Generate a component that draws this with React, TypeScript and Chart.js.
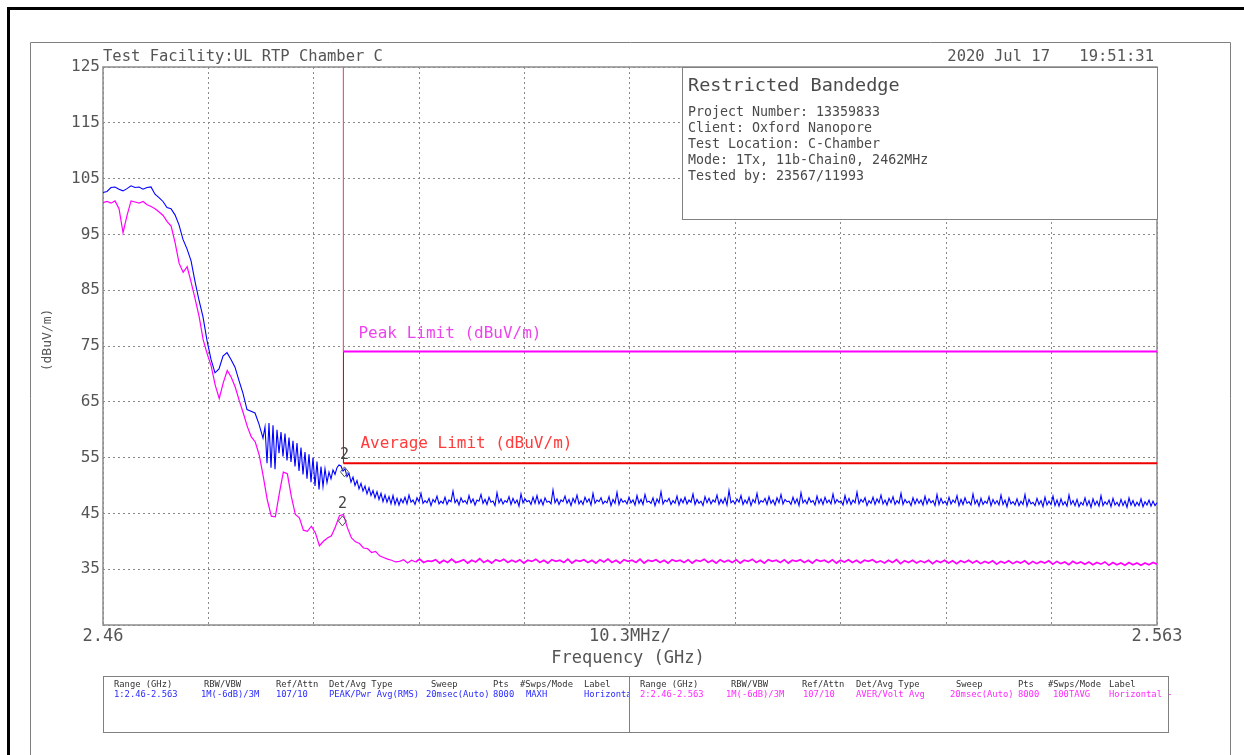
import React, { useEffect, useRef } from 'react';
import { Chart, registerables } from 'chart.js';

Chart.register(...registerables);

const MONO = '"DejaVu Sans Mono", "Liberation Mono", monospace';

// Sweep
const FREQ_START = 2.46;
const FREQ_STOP = 2.563;

// Axis ticks
const X_TICKS = [2.46, 2.4703, 2.4806, 2.4909, 2.5012, 2.5115, 2.5218, 2.5321, 2.5424, 2.5527, 2.563];
const X_TICK_LABELS = ['2.46', '', '', '', '', '10.3MHz/', '', '', '', '', '2.563'];
const Y_TICKS = [25, 35, 45, 55, 65, 75, 85, 95, 105, 115, 125];
const Y_TICK_LABELS = ['', '35', '45', '55', '65', '75', '85', '95', '105', '115', '125'];

// Trace 1: Peak (MAXH), dBuV/m — coarse samples over the lower band edge
const PEAK_TRACE_COARSE = [
  102.5, 102.7, 103.4, 103.5, 103.1, 102.8, 103.2, 103.7, 103.4, 103.5,
  103.1, 103.4, 103.5, 102.2, 101.6, 100.9, 99.8, 99.6, 98.5, 96.7,
  94.1, 92.4, 90.3, 86.6, 83.2, 80.2, 76.0, 72.6, 70.2, 70.9,
  73.2, 73.8, 72.6, 71.2, 68.8, 66.5, 63.6, 63.3, 63.0, 61.0,
  58.5,
];
// Trace 1: fine samples (noisy region, restricted band)
const PEAK_TRACE_FINE = [
  60.5, 54.0, 61.2, 53.2, 60.8, 52.9, 60.0, 55.8, 59.6, 55.2,
  59.3, 54.5, 58.6, 54.2, 58.0, 53.4, 57.6, 52.6, 56.8, 52.0,
  56.0, 51.2, 55.6, 50.6, 55.0, 49.9, 54.3, 49.3, 53.4, 49.8,
  53.0, 50.5, 52.4, 51.2, 52.8, 52.0, 53.2, 53.7,
  53.5, 52.6, 53.0, 51.6, 52.2, 50.6, 51.5, 50.0, 50.9, 49.4,
  50.4, 49.0, 49.9, 48.5, 49.6, 48.2, 49.1, 47.8, 48.9, 47.5,
  48.6, 47.1, 48.3, 47.0, 48.0, 46.7, 48.2, 46.6, 47.7, 46.5,
  47.6, 46.9, 47.9, 46.7, 48.3, 47.0, 47.4, 46.6, 47.8, 47.1,
  48.6, 46.8, 47.3, 46.9, 47.7, 46.4, 47.5, 47.0, 48.1, 46.7,
  47.2, 46.8, 47.9, 46.6, 47.4, 47.1, 49.0, 46.9, 47.5, 46.5,
  47.8, 47.0, 47.3, 46.7, 48.2, 46.9, 47.6, 46.5, 47.4, 47.2,
  48.4, 46.8, 47.5, 46.6, 47.9, 47.0, 47.2, 46.4, 48.7, 46.9,
  47.6, 46.7, 47.3, 47.0, 48.0, 46.6, 47.7, 46.8, 47.4, 46.3,
  48.5, 46.9, 47.6, 47.1, 47.3, 46.6, 47.9, 46.8, 48.2, 46.7,
  47.5, 46.5, 47.8, 47.0, 47.2, 46.7, 49.2, 46.9, 47.6, 46.6,
  47.4, 47.1, 48.1, 46.8, 47.5, 46.4, 47.7, 46.9, 48.3, 46.7,
  47.3, 46.6, 47.9, 47.0, 47.6, 46.5, 48.6, 46.8, 47.4, 47.1,
  47.8, 46.7, 47.2, 46.9, 48.0, 46.4, 47.5, 46.8, 48.8, 46.6,
  47.6, 47.0, 47.3, 46.7, 47.9, 46.9, 47.4, 46.5, 48.2, 46.8,
  47.5, 46.6, 48.4, 47.0, 47.2, 46.8, 47.8, 46.4, 47.6, 46.9,
  48.9, 46.7, 47.4, 47.1, 47.7, 46.6, 47.3, 46.8, 48.1, 46.5,
  47.6, 46.9, 47.9, 46.7, 47.4, 47.0, 48.5, 46.6, 47.5, 46.8,
  47.2, 46.4, 48.0, 46.9, 47.7, 46.7, 47.4, 47.0, 48.3, 46.6,
  47.5, 46.8, 47.8, 46.5, 49.1, 46.9, 47.3, 46.7, 47.6, 47.0,
  48.2, 46.6, 47.4, 46.8, 47.9, 46.4, 47.5, 46.9, 48.6, 46.7,
  47.3, 47.0, 47.7, 46.6, 48.0, 46.8, 47.4, 46.5, 47.8, 46.9,
  48.4, 46.7, 47.5, 47.1, 47.2, 46.6, 47.9, 46.8, 47.6, 46.4,
  48.7, 46.9, 47.4, 46.7, 47.8, 47.0, 47.3, 46.5, 48.1, 46.8,
  47.6, 46.6, 47.9, 46.9, 47.4, 46.7, 48.5, 46.8, 47.5, 47.0,
  47.2, 46.5, 48.2, 46.8, 47.7, 46.6, 47.4, 46.9, 48.8, 46.7,
  47.5, 47.0, 47.8, 46.4, 47.3, 46.8, 47.9, 46.6, 47.6, 46.9,
  48.3, 46.7, 47.4, 46.5, 47.7, 46.9, 48.0, 46.6, 47.3, 46.8,
  48.6, 46.6, 47.5, 46.9, 47.2, 46.4, 47.8, 46.7, 47.6, 46.8,
  47.4, 46.5, 48.1, 46.7, 47.6, 46.9, 47.3, 46.4, 48.4, 46.6,
  47.7, 46.8, 47.2, 46.5, 47.9, 46.7, 47.4, 46.9, 48.2, 46.4,
  47.5, 46.6, 47.8, 46.8, 47.1, 46.5, 48.5, 46.7, 47.4, 46.3,
  47.7, 46.6, 47.2, 46.8, 48.0, 46.4, 47.5, 46.7, 47.3, 46.5,
  48.3, 46.6, 47.4, 46.2, 47.8, 46.7, 47.1, 46.5, 47.6, 46.4,
  47.2, 46.6, 48.4, 46.3, 47.5, 46.7, 47.0, 46.4, 47.7, 46.6,
  47.3, 46.2, 47.9, 46.5, 47.2, 46.6, 48.1, 46.4, 47.4, 46.3,
  47.6, 46.5, 47.1, 46.3, 48.3, 46.6, 47.3, 46.4, 47.5, 46.2,
  47.0, 46.5, 47.8, 46.4, 47.3, 46.1, 47.6, 46.5, 47.2, 46.3,
  48.2, 46.4, 47.1, 46.6, 47.4, 46.2, 47.7, 46.5, 47.0, 46.3,
  47.5, 46.4, 47.2, 46.1, 47.8, 46.5, 47.3, 46.3, 47.0, 46.4,
  47.6, 46.2, 47.1, 46.5, 47.4, 46.3, 47.2, 46.4, 46.9,
];

// Trace 2: Average (100TAVG), dBuV/m — uniform coarse samples
const AVG_TRACE = [
  100.7, 100.9, 100.6, 101.0, 99.6, 95.3, 98.4, 101.0, 100.8, 100.6,
  100.9, 100.3, 100.0, 99.6, 99.0, 98.4, 97.3, 96.5, 93.5, 89.8,
  88.2, 89.2, 86.4, 83.4, 80.2, 76.1, 73.6, 71.4, 68.0, 65.6,
  68.4, 70.6, 69.4, 67.6, 65.2, 63.0, 60.6, 58.7, 57.8, 55.4,
  51.6, 47.4, 44.5, 44.4, 48.6, 52.4, 52.1, 48.0, 44.8, 44.2,
  42.0, 41.8, 42.7, 41.5, 39.2, 40.0, 40.6, 41.0, 42.6, 44.6,
  44.8, 42.4, 40.6, 39.9, 39.6, 38.8, 38.7, 38.0, 38.2, 37.4,
  37.1, 36.8, 36.6, 36.3, 36.4,
  36.7, 36.1, 36.6, 36.3, 36.8, 36.2, 36.5, 36.4, 36.7, 36.1,
  36.6, 36.2, 36.8, 36.2, 36.4, 36.7, 36.1, 36.6, 36.3, 36.9,
  36.2, 36.6, 36.1, 36.7, 36.4, 36.8, 36.2, 36.6, 36.3, 36.7,
  36.1, 36.6, 36.4, 36.8, 36.2, 36.6, 36.1, 36.7, 36.4, 36.6,
  36.2, 36.8, 36.1, 36.6, 36.4, 36.7, 36.2, 36.6, 36.1, 36.7,
  36.3, 36.8, 36.2, 36.6, 36.1, 36.7, 36.4, 36.6, 36.2, 36.8,
  36.1, 36.6, 36.4, 36.7, 36.2, 36.6, 36.1, 36.7, 36.4, 36.6,
  36.2, 36.7, 36.1, 36.6, 36.4, 36.8, 36.2, 36.6, 36.1, 36.7,
  36.3, 36.6, 36.2, 36.7, 36.1, 36.6, 36.4, 36.8, 36.2, 36.6,
  36.1, 36.7, 36.4, 36.6, 36.2, 36.7, 36.1, 36.6, 36.4, 36.7,
  36.2, 36.6, 36.1, 36.7, 36.4, 36.6, 36.2, 36.7, 36.1, 36.6,
  36.3, 36.7, 36.2, 36.6, 36.1, 36.6, 36.4, 36.7, 36.2, 36.5,
  36.1, 36.6, 36.2, 36.7, 36.0, 36.5, 36.2, 36.6, 36.1, 36.5,
  36.2, 36.6, 36.0, 36.5, 36.2, 36.6, 36.1, 36.5, 36.0, 36.5,
  36.2, 36.6, 36.1, 36.5, 36.0, 36.4, 36.1, 36.5, 35.9, 36.4,
  36.1, 36.5, 36.0, 36.4, 36.1, 36.5, 35.9, 36.4, 36.0, 36.4,
  36.1, 36.5, 35.9, 36.4, 36.0, 36.3, 35.8, 36.4, 36.0, 36.3,
  35.9, 36.3, 35.8, 36.2, 35.9, 36.3, 35.7, 36.2, 35.8, 36.1,
  35.7, 36.2, 35.8, 36.1, 35.7, 36.1, 35.8, 36.2, 35.9,
];

// Limits
const BAND_EDGE_GHZ = 2.4835;
const PEAK_LIMIT = 74;
const AVG_LIMIT = 54;
const PEAK_LIMIT_LABEL = 'Peak Limit (dBuV/m)';
const AVG_LIMIT_LABEL = 'Average Limit (dBuV/m)';

// Markers
const MARKER_FREQ = [2.4836, 2.4834];
const MARKER_LEVEL = [53.7, 44.9];
const MARKER_LABEL = ['2', '2'];

// Texts
const HEADER_LEFT = 'Test Facility:UL RTP Chamber C';
const HEADER_DATE = '2020 Jul 17';
const HEADER_TIME = '19:51:31';
const INFO_TITLE = 'Restricted Bandedge';
const INFO_LINES = [
  'Project Number: 13359833',
  'Client: Oxford Nanopore',
  'Test Location: C-Chamber',
  'Mode: 1Tx, 11b-Chain0, 2462MHz',
  'Tested by: 23567/11993',
];
const Y_TITLE = '(dBuV/m)';
const X_TITLE = 'Frequency (GHz)';
const TABLE_HEADERS = ['Range (GHz)', 'RBW/VBW', 'Ref/Attn', 'Det/Avg Type', 'Sweep', 'Pts', '#Swps/Mode', 'Label'];
const TRACE1_SETTINGS = ['1:2.46-2.563', '1M(-6dB)/3M', '107/10', 'PEAK/Pwr Avg(RMS)', '20msec(Auto)', '8000', 'MAXH', 'Horizontal'];
const TRACE2_SETTINGS = ['2:2.46-2.563', '1M(-6dB)/3M', '107/10', 'AVER/Volt Avg', '20msec(Auto)', '8000', '100TAVG', 'Horizontal -'];

const BLUE = '#0000ff';
const MAGENTA = '#ff00ff';
const RED = '#ee0000';
const TEXT_GRAY = '#555555';

// Sample positions: coarse samples every 2 half-steps, fine samples every half-step
function peakSweep() {
  const coarseIntervals = PEAK_TRACE_COARSE.length - 1;
  const halfSteps = coarseIntervals * 2 + PEAK_TRACE_FINE.length;
  const half = (FREQ_STOP - FREQ_START) / halfSteps;
  const pts = PEAK_TRACE_COARSE.map((v, i) => ({ x: FREQ_START + 2 * i * half, y: v }));
  PEAK_TRACE_FINE.forEach((v, j) => pts.push({ x: FREQ_START + (coarseIntervals * 2 + 1 + j) * half, y: v }));
  return pts;
}

function sweep(values: number[]) {
  const n = values.length;
  return values.map((v, i) => ({ x: FREQ_START + (i * (FREQ_STOP - FREQ_START)) / (n - 1), y: v }));
}

const analyzerFrame = {
  id: 'analyzerFrame',
  beforeDraw(chart: any) {
    const { ctx, width, height } = chart;
    ctx.save();
    ctx.fillStyle = '#ffffff';
    ctx.fillRect(0, 0, width, height);
    ctx.fillStyle = '#000000';
    ctx.fillRect(7, 7, 1237, 3);
    ctx.fillRect(7, 7, 3, height - 7);
    ctx.strokeStyle = '#808080';
    ctx.lineWidth = 1;
    ctx.beginPath();
    ctx.moveTo(30.5, height);
    ctx.lineTo(30.5, 42.5);
    ctx.lineTo(1230.5, 42.5);
    ctx.lineTo(1230.5, height);
    ctx.stroke();

    ctx.fillStyle = TEXT_GRAY;
    ctx.textBaseline = 'middle';
    ctx.font = `15.5px ${MONO}`;
    ctx.textAlign = 'left';
    ctx.fillText(HEADER_LEFT, 103, 57);
    ctx.textAlign = 'right';
    ctx.fillText(HEADER_DATE, 1050, 57);
    ctx.fillText(HEADER_TIME, 1154, 57);

    ctx.save();
    ctx.translate(48, 340);
    ctx.rotate(-Math.PI / 2);
    ctx.textAlign = 'center';
    ctx.font = `13px ${MONO}`;
    ctx.fillText(Y_TITLE, 0, 0);
    ctx.restore();

    ctx.textAlign = 'center';
    ctx.font = `17px ${MONO}`;
    ctx.fillText(X_TITLE, 628, 659);

    ctx.strokeStyle = '#808080';
    ctx.lineWidth = 1;
    ctx.strokeRect(103.5, 676.5, 1065, 56);
    ctx.beginPath();
    ctx.moveTo(629.5, 676.5);
    ctx.lineTo(629.5, 732.5);
    ctx.stroke();
    ctx.font = `8.8px ${MONO}`;
    ctx.textAlign = 'left';
    const hL = [114, 204, 276, 329, 431, 493, 520, 584];
    const vL = [114, 201, 276, 329, 426, 493, 526, 584];
    const hR = [640, 731, 802, 856, 956, 1018, 1048, 1109];
    const vR = [640, 726, 803, 856, 950, 1018, 1053, 1109];
    ctx.save();
    ctx.beginPath();
    ctx.rect(104, 677, 525, 55);
    ctx.clip();
    TABLE_HEADERS.forEach((t, i) => {
      ctx.fillStyle = '#333333';
      ctx.fillText(t, hL[i], 685);
      ctx.fillStyle = '#2a2aff';
      ctx.fillText(TRACE1_SETTINGS[i], vL[i], 695);
    });
    ctx.restore();
    TABLE_HEADERS.forEach((t, i) => {
      ctx.fillStyle = '#333333';
      ctx.fillText(t, hR[i], 685);
      ctx.fillStyle = '#ff2aff';
      ctx.fillText(TRACE2_SETTINGS[i], vR[i], 695);
    });
    ctx.restore();
  },
  beforeDatasetsDraw(chart: any) {
    const { ctx, chartArea } = chart;
    ctx.save();
    ctx.strokeStyle = '#8c8c8c';
    ctx.lineWidth = 1.5;
    ctx.strokeRect(chartArea.left, chartArea.top, chartArea.right - chartArea.left, chartArea.bottom - chartArea.top);
    ctx.restore();
  },
  afterDatasetsDraw(chart: any) {
    const { ctx, chartArea, scales } = chart;
    const xs = scales.x;
    const ys = scales.y;
    ctx.save();
    const bx = 682;
    const by = chartArea.top;
    const bw = chartArea.right - bx;
    const bh = 219 - chartArea.top;
    ctx.fillStyle = '#ffffff';
    ctx.fillRect(bx, by, bw, bh);
    ctx.strokeStyle = '#808080';
    ctx.lineWidth = 1;
    ctx.strokeRect(bx + 0.5, by + 0.5, bw, bh);
    ctx.fillStyle = '#4a4a4a';
    ctx.textAlign = 'left';
    ctx.textBaseline = 'middle';
    ctx.font = `18.5px ${MONO}`;
    ctx.fillText(INFO_TITLE, 688, 86);
    ctx.font = `13.3px ${MONO}`;
    INFO_LINES.forEach((t, i) => ctx.fillText(t, 688, 113 + i * 16));

    const ex = xs.getPixelForValue(BAND_EDGE_GHZ);
    ctx.font = `16px ${MONO}`;
    ctx.fillStyle = '#ee44ee';
    ctx.fillText(PEAK_LIMIT_LABEL, ex + 15, ys.getPixelForValue(PEAK_LIMIT) - 18);
    ctx.fillStyle = '#ff3b3b';
    ctx.fillText(AVG_LIMIT_LABEL, ex + 17, ys.getPixelForValue(AVG_LIMIT) - 19);

    MARKER_FREQ.forEach((f, i) => {
      const px = xs.getPixelForValue(f);
      const py = ys.getPixelForValue(MARKER_LEVEL[i]);
      ctx.fillStyle = '#444444';
      ctx.textAlign = 'center';
      ctx.font = `15px ${MONO}`;
      ctx.fillText(MARKER_LABEL[i], px, py - 10);
      ctx.strokeStyle = '#555555';
      ctx.lineWidth = 1;
      ctx.beginPath();
      ctx.moveTo(px, py + 2);
      ctx.lineTo(px + 4, py + 7);
      ctx.lineTo(px, py + 12);
      ctx.lineTo(px - 4, py + 7);
      ctx.closePath();
      ctx.stroke();
    });
    ctx.restore();
  },
};

export default function App() {
  const ref = useRef<HTMLCanvasElement | null>(null);
  useEffect(() => {
    if (!ref.current) return;
    const chart = new Chart(ref.current, {
      type: 'line',
      data: {
        datasets: [
          {
            label: 'Peak Limit',
            data: [
              { x: BAND_EDGE_GHZ, y: 125 },
              { x: BAND_EDGE_GHZ, y: PEAK_LIMIT },
              { x: FREQ_STOP, y: PEAK_LIMIT },
            ],
            borderColor: MAGENTA,
            borderWidth: 2,
            pointRadius: 0,
            tension: 0,
            segment: {
              borderWidth: (c: any) => (c.p0.parsed.x === c.p1.parsed.x ? 1 : 2),
              borderColor: (c: any) => (c.p0.parsed.x === c.p1.parsed.x ? '#b070b0' : MAGENTA),
            },
          },
          {
            label: 'Average Limit',
            data: [
              { x: BAND_EDGE_GHZ, y: 125 },
              { x: BAND_EDGE_GHZ, y: AVG_LIMIT },
              { x: FREQ_STOP, y: AVG_LIMIT },
            ],
            borderColor: RED,
            borderWidth: 2,
            pointRadius: 0,
            tension: 0,
            segment: {
              borderWidth: (c: any) => (c.p0.parsed.x === c.p1.parsed.x ? 1 : 2),
            },
          },
          {
            label: 'Trace 1 Peak',
            data: peakSweep(),
            borderColor: BLUE,
            borderWidth: 1.1,
            pointRadius: 0,
            tension: 0,
          },
          {
            label: 'Trace 2 Average',
            data: sweep(AVG_TRACE),
            borderColor: MAGENTA,
            borderWidth: 1.2,
            pointRadius: 0,
            tension: 0,
            segment: {
              borderWidth: (c: any) => (c.p0.parsed.x > 2.4905 ? 1.7 : 1.2),
            },
          },
        ],
      },
      options: {
        responsive: false,
        maintainAspectRatio: false,
        animation: false,
        devicePixelRatio: 1,
        layout: { padding: { left: 30, right: 87, top: 67, bottom: 108 } },
        plugins: { legend: { display: false }, tooltip: { enabled: false } },
        scales: {
          x: {
            type: 'linear',
            min: FREQ_START,
            max: FREQ_STOP,
            afterBuildTicks: (s: any) => {
              s.ticks = X_TICKS.map((v) => ({ value: v }));
            },
            afterFit: (s: any) => {
              s.height = 22;
            },
            ticks: {
              autoSkip: false,
              maxRotation: 0,
              padding: 1,
              color: TEXT_GRAY,
              font: { family: MONO, size: 17 },
              callback: (_v: any, i: number) => X_TICK_LABELS[i],
            },
            grid: { color: '#8a8a8a', lineWidth: 1, drawTicks: false },
            border: { display: false, dash: [2, 3] },
          },
          y: {
            type: 'linear',
            min: 25,
            max: 125,
            afterBuildTicks: (s: any) => {
              s.ticks = Y_TICKS.map((v) => ({ value: v }));
            },
            afterFit: (s: any) => {
              s.width = 73;
            },
            ticks: {
              autoSkip: false,
              padding: 3,
              color: TEXT_GRAY,
              font: { family: MONO, size: 16 },
              callback: (_v: any, i: number) => Y_TICK_LABELS[i],
            },
            grid: { color: '#8a8a8a', lineWidth: 1, drawTicks: false },
            border: { display: false, dash: [2, 3] },
          },
        },
      },
      plugins: [analyzerFrame],
    } as any);
    return () => chart.destroy();
  }, []);
  return (
    <div style={{ position: 'fixed', left: 0, top: 0, width: 1244, height: 755, background: '#fff' }}>
      <canvas ref={ref} width={1244} height={755} style={{ display: 'block', width: 1244, height: 755 }} />
    </div>
  );
}
